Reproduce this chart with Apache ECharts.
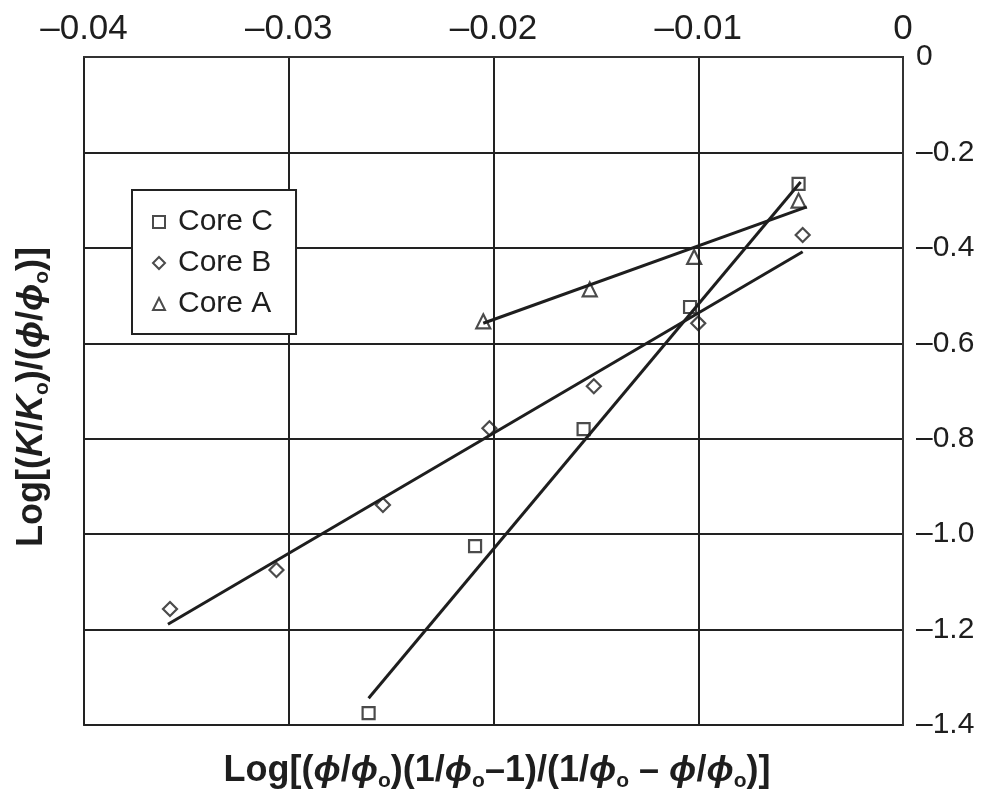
<!DOCTYPE html>
<html>
<head>
<meta charset="utf-8">
<script src="https://cdn.jsdelivr.net/npm/echarts@6/dist/echarts.min.js"></script>
<style>
html,body{margin:0;padding:0;background:#fff;}
#chart{width:990px;height:795px;}
</style>
</head>
<body>
<div id="chart"></div>
<script>
// ---- data ----
const seriesNames = ['Core C', 'Core B', 'Core A'];

const coreC_x = [-0.0261, -0.0209, -0.0156, -0.0104, -0.0051];
const coreC_y = [-1.375, -1.025, -0.780, -0.524, -0.266];

const coreB_x = [-0.0358, -0.0306, -0.0254, -0.0202, -0.0151, -0.0100, -0.0049];
const coreB_y = [-1.157, -1.075, -0.939, -0.778, -0.690, -0.558, -0.373];

const coreA_x = [-0.0205, -0.0153, -0.0102, -0.0051];
const coreA_y = [-0.554, -0.487, -0.419, -0.301];

// fitted straight lines (end points)
const fitC_x = [-0.0261, -0.0050];
const fitC_y = [-1.344, -0.262];
const fitB_x = [-0.0359, -0.0049];
const fitB_y = [-1.189, -0.408];
const fitA_x = [-0.0205, -0.0047];
const fitA_y = [-0.558, -0.314];

const xMin = -0.04, xMax = 0, xStep = 0.01;
const yMin = -1.4, yMax = 0, yStep = 0.2;

// ---- build ----
const zip = (xs, ys) => xs.map((x, i) => [x, ys[i]]);
const FONT = "'Liberation Sans', Arial, Helvetica, sans-serif";
const INK = '#1e1e1e';
const dash = s => s.replace('-', '\u2013');

const markerStyle = {color: 'rgba(0,0,0,0)', borderColor: INK, borderWidth: 2.2};
const lineStyle = {color: INK, width: 3};

const chart = echarts.init(document.getElementById('chart'), null, {renderer: 'canvas'});

const titleRich = {
  b: {fontFamily: FONT, fontSize: 36, fontWeight: 'bold', lineHeight: 42, fill: INK},
  i: {fontFamily: FONT, fontSize: 36, fontWeight: 'bold', fontStyle: 'italic', lineHeight: 42, fill: INK},
  s: {fontFamily: FONT, fontSize: 21, fontWeight: 'bold', lineHeight: 21, verticalAlign: 'bottom', fill: INK}
};

const option = {
  backgroundColor: '#fff',
  animation: false,
  grid: {left: 84, top: 57, width: 819, height: 668, show: true,
         borderColor: '#333', borderWidth: 2, backgroundColor: 'transparent'},
  xAxis: {
    type: 'value', position: 'top', min: xMin, max: xMax, interval: xStep,
    axisLine: {show: true, lineStyle: {color: '#333', width: 2}},
    axisTick: {show: false},
    splitLine: {show: true, lineStyle: {color: '#222', width: 2}},
    axisLabel: {fontFamily: FONT, fontSize: 35, color: INK, margin: 10,
      formatter: v => v === 0 ? '0' : dash(v.toFixed(2))}
  },
  yAxis: {
    type: 'value', position: 'right', min: yMin, max: yMax, interval: yStep,
    axisLine: {show: true, lineStyle: {color: '#333', width: 2}},
    axisTick: {show: false},
    splitLine: {show: true, lineStyle: {color: '#222', width: 2}},
    axisLabel: {fontFamily: FONT, fontSize: 30, color: INK, margin: 13,
      formatter: v => Math.abs(v) < 1e-9 ? '0' : dash(v.toFixed(1))}
  },
  legend: {
    orient: 'vertical', left: 132, top: 190,
    padding: [17, 23, 15, 20], itemGap: 11, itemWidth: 12, itemHeight: 12,
    borderColor: '#222', borderWidth: 2, backgroundColor: '#fff',
    textStyle: {fontFamily: FONT, fontSize: 30, color: INK, lineHeight: 30, padding: [0, 0, 0, 8]},
    data: seriesNames,
    selectedMode: false
  },
  series: [
    {type: 'line', name: 'fitC', data: zip(fitC_x, fitC_y), showSymbol: false, symbol: 'none', lineStyle: lineStyle, silent: true, z: 2},
    {type: 'line', name: 'fitB', data: zip(fitB_x, fitB_y), showSymbol: false, symbol: 'none', lineStyle: lineStyle, silent: true, z: 2},
    {type: 'line', name: 'fitA', data: zip(fitA_x, fitA_y), showSymbol: false, symbol: 'none', lineStyle: lineStyle, silent: true, z: 2},
    {type: 'scatter', name: seriesNames[0], data: zip(coreC_x, coreC_y), symbol: 'rect', symbolSize: 12, itemStyle: markerStyle, z: 3},
    {type: 'scatter', name: seriesNames[1], data: zip(coreB_x, coreB_y), symbol: 'diamond', symbolSize: 14, itemStyle: markerStyle, z: 3},
    {type: 'scatter', name: seriesNames[2], data: zip(coreA_x, coreA_y), symbol: 'triangle', symbolSize: 14, itemStyle: markerStyle, z: 3}
  ],
  graphic: [
    {
      type: 'text', x: 497, y: 771,
      style: {
        text: '{b|Log[(}{i|\u03D5}{b|/}{i|\u03D5}{s|o}{b|)(1/}{i|\u03D5}{s|o}{b|\u20131)/(1/}{i|\u03D5}{s|o}{b| \u2013 }{i|\u03D5}{b|/}{i|\u03D5}{s|o}{b|)]}',
        align: 'center', verticalAlign: 'middle', fill: INK,
        rich: titleRich
      }
    },
    {
      type: 'text', x: 32, y: 397, rotation: Math.PI / 2,
      style: {
        text: '{b|Log[(}{i|K}{b|/}{i|K}{s|o}{b|)/(}{i|\u03D5}{b|/}{i|\u03D5}{s|o}{b|)]}',
        align: 'center', verticalAlign: 'middle', fill: INK,
        rich: titleRich
      }
    }
  ]
};
chart.setOption(option);
</script>
</body>
</html>
